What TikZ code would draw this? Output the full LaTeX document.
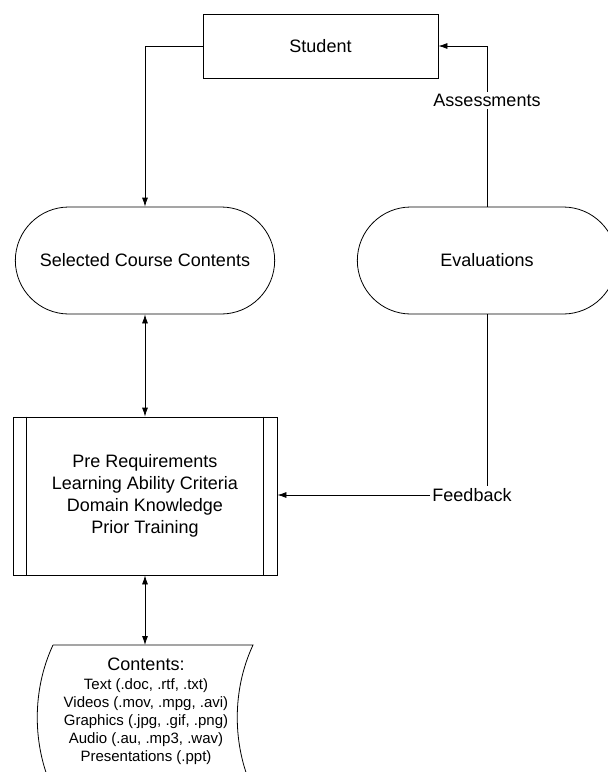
\documentclass[tikz,border=0pt]{standalone}
\usepackage{fontspec}
\setmainfont{Liberation Sans}
\usetikzlibrary{shapes.misc,arrows.meta}
\begin{document}
\begin{tikzpicture}[x=1pt,y=-1pt,line width=0.8pt,
  box/.style={draw,rectangle,minimum width=235pt,minimum height=64pt},
  term/.style={draw,rounded rectangle,minimum width=266pt,minimum height=107pt},
  proc/.style={draw,rectangle,minimum width=264pt,minimum height=158pt,align=center},
  lbl/.style={fill=white,inner sep=2pt},
  arr/.style={-{Latex[length=9pt,width=6pt]}},
  dbl/.style={{Latex[length=9pt,width=6pt]}-{Latex[length=9pt,width=6pt]}},
  every node/.style={font=\fontsize{18}{22}\selectfont}]
\useasboundingbox[fill=white] (0,0) rectangle (608,772);
\node[box] (student) at (320.5,46) {Student};
\node[term] (sel) at (145,260.5) {Selected Course Contents};
\node[term] (eval) at (487,260.5) {Evaluations};
\node[proc] (proc) at (145,496) {Pre Requirements\\Learning Ability Criteria\\Domain Knowledge\\Prior Training};
\draw ([xshift=14pt]proc.north west) -- ([xshift=14pt]proc.south west);
\draw ([xshift=-14pt]proc.north east) -- ([xshift=-14pt]proc.south east);
\coordinate (docnw) at (53,645);
\coordinate (docne) at (253,645);
\coordinate (docsw) at (53,790);
\coordinate (docse) at (253,790);
\draw (docnw) -- (docne) .. controls (232,690) and (232,745) .. (docse)
  -- (docsw) .. controls (32,745) and (32,690) .. (docnw);
\node[align=center,inner sep=0pt,font=\fontsize{15}{18}\selectfont] (contents) at (146,711)
  {{\fontsize{18}{20}\selectfont Contents:}\\[1pt]Text (.doc, .rtf, .txt)\\Videos (.mov, .mpg, .avi)\\Graphics (.jpg, .gif, .png)\\Audio (.au, .mp3, .wav)\\Presentations (.ppt)};
\node[inner sep=2pt] (fb) at (472,495) {Feedback};
\draw[arr] (student.west) -| (sel.north);
\draw[arr] (eval.north) |- (student.east) node[lbl,pos=0.33] (assess) {Assessments};
\draw (eval.south) -- (eval.south |- fb.north);
\draw[arr] (fb.west) -- (fb.west -| proc.east);
\draw[dbl] (sel.south) -- (proc.north);
\draw[dbl] (proc.south) -- (proc.south |- docnw);
\end{tikzpicture}
\end{document}
